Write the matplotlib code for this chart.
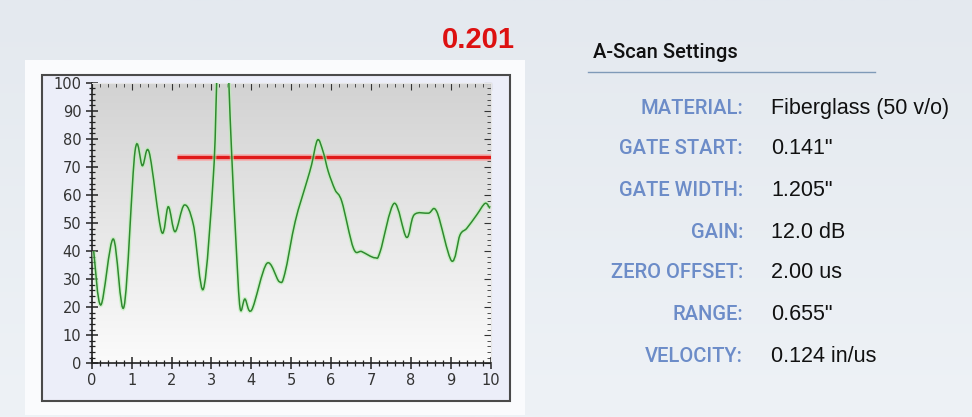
import numpy as np
import matplotlib
matplotlib.use("Agg")
import matplotlib.pyplot as plt
from matplotlib.patches import Rectangle, PathPatch
from matplotlib.path import Path
from matplotlib.lines import Line2D

# A-scan trace
scan_x = [0.05, 0.23, 0.54, 0.81, 1.085, 1.27, 1.44, 1.75, 1.92, 2.09, 2.32, 2.55,
          2.80, 3.05, 3.13, 3.18, 3.39, 3.44, 3.51, 3.62, 3.72, 3.84, 4.01, 4.39, 4.70,
          4.84, 5.10, 5.39, 5.51, 5.66, 5.80, 5.93, 6.10, 6.27, 6.56, 6.77, 7.10,
          7.23, 7.58, 7.89, 8.08, 8.44, 8.65, 9.02, 9.23, 9.40, 9.65, 9.86, 9.98]
scan_y = [40, 20.8, 44.3, 20.2, 75.5, 70.4, 75.2, 46.9, 55.8, 46.9, 56.4, 49.3,
          26.5, 67, 99, 120, 120, 99, 74, 42, 19.6, 22.9, 19.0, 35.6, 29.1,
          32, 50.5, 64.7, 70.7, 79.6, 75.4, 68.3, 61.8, 57.6, 41, 39.8, 37.6,
          39.8, 57, 44.9, 52.9, 53.5, 54, 36.5, 45.7, 48.1, 52.9, 57, 55.2]

gate_start = 2.13
gate_end = 10
gate_level = 73.6
reading = "0.201"

settings_labels = ["MATERIAL:", "GATE START:", "GATE WIDTH:", "GAIN:",
                   "ZERO OFFSET:", "RANGE:", "VELOCITY:"]
settings_values = ["Fiberglass (50 v/o)", '0.141"', '1.205"', "12.0 dB",
                   "2.00 us", '0.655"', "0.124 in/us"]

W, H = 972, 417


def px(x, y, w, h):
    # pixel box (top-left origin) to figure fraction
    return [x / W, 1 - (y + h) / H, w / W, h / H]


def smooth_path(xs, ys):
    # catmull-rom through the read points, drawn as cubic bezier segments
    p = np.column_stack([xs, ys]).astype(float)
    p = np.vstack([p[0], p, p[-1]])
    verts = [p[1]]
    codes = [Path.MOVETO]
    for i in range(1, len(p) - 2):
        c1 = p[i] + (p[i + 1] - p[i - 1]) / 6
        c2 = p[i + 1] - (p[i + 2] - p[i]) / 6
        verts += [c1, c2, p[i + 1]]
        codes += [Path.CURVE4] * 3
    return Path(verts, codes)


fig = plt.figure(figsize=(W / 100, H / 100), dpi=100)
fig.patch.set_facecolor("#e8edf2")

# background gradient of the whole page
bg = fig.add_axes([0, 0, 1, 1], zorder=-10)
bg.imshow(np.linspace(0, 1, 256).reshape(-1, 1), extent=[0, 1, 0, 1], aspect="auto",
          cmap=matplotlib.colors.LinearSegmentedColormap.from_list("bg", ["#e4e9ef", "#eef2f6"]))
bg.set_axis_off()

# white margin and lavender panel behind the plot
fig.patches.append(Rectangle((25 / W, 1 - 415 / H), 500 / W, 355 / H,
                             transform=fig.transFigure, facecolor="#fafbfd",
                             edgecolor="none", zorder=-5))
fig.patches.append(Rectangle((42 / W, 1 - 401 / H), 468 / W, 326 / H,
                             transform=fig.transFigure, facecolor="#eceef9",
                             edgecolor="#4a4a4a", linewidth=1.5, zorder=-4))

ax = fig.add_axes(px(91.7, 82.7, 399, 280.6))
ax.imshow(np.linspace(0, 1, 256).reshape(-1, 1), extent=[0, 10, 100, 0],
          aspect="auto", zorder=0,
          cmap=matplotlib.colors.LinearSegmentedColormap.from_list("pl", ["#fbfbfb", "#d2d2d2"]))
ax.set_xlim(0, 10)
ax.set_ylim(0, 100)

# gate line with soft glow
ax.plot([gate_start, gate_end], [gate_level, gate_level], color="#ff9a9a",
        linewidth=5, alpha=0.6, zorder=2, solid_capstyle="butt")
ax.plot([gate_start, gate_end], [gate_level, gate_level], color="#e01a1a",
        linewidth=2.4, zorder=3, solid_capstyle="butt")

trace = smooth_path(scan_x, scan_y)
ax.add_patch(PathPatch(trace, facecolor="none", edgecolor="#b8f0b0", linewidth=3,
                       alpha=0.6, zorder=4))
ax.add_patch(PathPatch(trace, facecolor="none", edgecolor="#2f8a2f", linewidth=1.1,
                       zorder=5))

ax.set_xticks(range(0, 11))
ax.set_yticks(range(0, 101, 10))
ax.set_xticks(np.arange(0, 10.01, 0.2), minor=True)
ax.set_yticks(np.arange(0, 100.1, 2), minor=True)
ax.tick_params(which="major", direction="inout", length=8, width=1.1,
               colors="#222222", labelsize=10.5, labelcolor="#333333")
ax.tick_params(which="minor", direction="inout", length=4, width=0.9, colors="#222222")
ax.tick_params(axis="x", pad=3)
for s in ["left", "bottom"]:
    ax.spines[s].set_color("#222222")
    ax.spines[s].set_linewidth(1.2)
for s in ["top", "right"]:
    ax.spines[s].set_color("#e6e6e6")

top = ax.secondary_xaxis("top")
top.set_xticks(range(0, 11))
top.set_xticks(np.arange(0, 10.01, 0.2), minor=True)
top.tick_params(which="major", direction="in", length=5, colors="#333333", labeltop=False)
top.tick_params(which="minor", direction="in", length=3, colors="#333333")
top.spines["top"].set_visible(False)
right = ax.secondary_yaxis("right")
right.set_yticks(range(0, 101, 10))
right.set_yticks(np.arange(0, 100.1, 2), minor=True)
right.tick_params(which="major", direction="in", length=5, colors="#333333", labelright=False)
right.tick_params(which="minor", direction="in", length=3, colors="#333333")
right.spines["right"].set_visible(False)

sans = ["Liberation Sans", "DejaVu Sans"]
narrow = ["Roboto", "Liberation Sans", "DejaVu Sans"]
fig.text(478 / W, 1 - 40 / H, reading, color="#dd1111", fontsize=21,
         fontweight="bold", family=sans, ha="center", va="center")

fig.text(593 / W, 1 - 53 / H, "A-Scan Settings", color="#111111", fontsize=14.5,
         family=narrow, fontweight="medium", ha="left", va="center")
fig.add_artist(Line2D([588 / W, 875 / W], [1 - 72 / H, 1 - 72 / H],
                      transform=fig.transFigure, color="#7f9ab8", linewidth=1))

row_y = [109, 149, 190, 232, 273, 315, 357]
for lab, val, y in zip(settings_labels, settings_values, row_y):
    fig.text(743 / W, 1 - y / H, lab, color="#6c8cc8", fontsize=14.5,
             family=narrow, fontweight="medium", ha="right", va="center")
    fig.text(771 / W, 1 - y / H, val, color="#111111", fontsize=15.5,
             family=sans, ha="left", va="center")

fig.savefig("out.png", dpi=100, facecolor=fig.get_facecolor())
